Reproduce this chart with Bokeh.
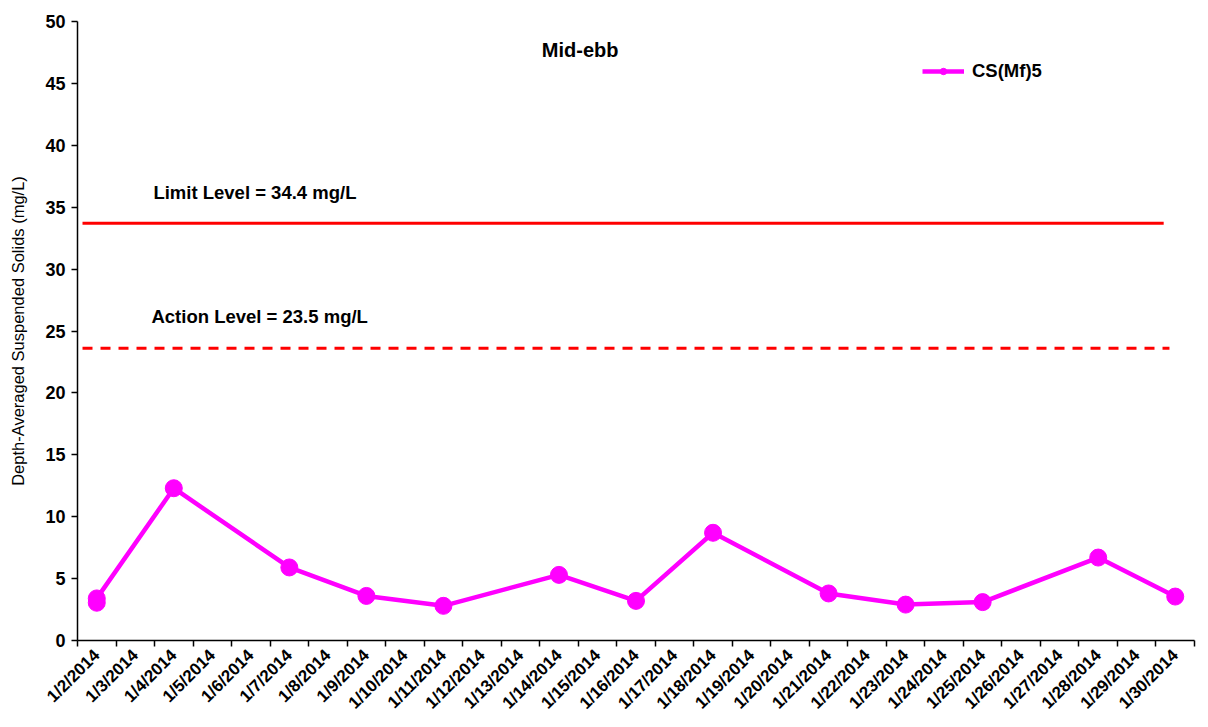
import math
from bokeh.plotting import figure
from bokeh.models import (FixedTicker, Label, Legend, LegendItem, ColumnDataSource, Range1d)
from bokeh.embed import file_html
from bokeh.resources import INLINE

# ---- data ----
categories = ["1/%d/2014" % d for d in range(2, 31)]
point_dates = ["1/2/2014", "1/2/2014", "1/4/2014", "1/7/2014", "1/9/2014", "1/11/2014",
               "1/14/2014", "1/16/2014", "1/18/2014", "1/21/2014", "1/23/2014",
               "1/25/2014", "1/28/2014", "1/30/2014"]
tss_values = [3.05, 3.4, 12.3, 5.9, 3.6, 2.8, 5.3, 3.2, 8.7, 3.8, 2.9, 3.1, 6.7, 3.55]
series_name = "CS(Mf)5"
limit_level = 33.7
action_level = 23.6
limit_label = "Limit Level = 34.4 mg/L"
action_label = "Action Level = 23.5 mg/L"
y_ticks = list(range(0, 51, 5))

FONT = "Liberation Sans"
MAGENTA = "#FF00FF"
RED = "#FF0000"

n = len(categories)
xs = [categories.index(d) + 0.5 for d in point_dates]

p = figure(width=1200, height=722, output_backend="svg", toolbar_location=None,
           x_range=Range1d(0, n), y_range=Range1d(0, 50),
           min_border_left=77, min_border_right=6, min_border_top=21, min_border_bottom=82)
p.xgrid.visible = False
p.ygrid.visible = False
p.outline_line_color = None
p.background_fill_color = "white"
p.border_fill_color = "white"

# x axis: labels at category centres, ticks at boundaries
xa = p.xaxis[0]
xa.ticker = FixedTicker(ticks=[i + 0.5 for i in range(n)], minor_ticks=list(range(n + 1)))
xa.major_label_overrides = {i + 0.5: c for i, c in enumerate(categories)}
xa.major_label_orientation = math.pi / 4
xa.major_tick_out = 0
xa.major_tick_in = 0
xa.minor_tick_out = 6
xa.minor_tick_in = 0
xa.minor_tick_line_color = "black"
xa.axis_line_color = "black"
xa.axis_line_width = 1.5
xa.minor_tick_line_width = 1.5
xa.major_label_text_font = FONT
xa.major_label_text_font_style = "bold"
xa.major_label_text_font_size = "17px"
xa.major_label_text_color = "black"
xa.major_label_standoff = 6

ya = p.yaxis[0]
ya.ticker = FixedTicker(ticks=y_ticks, minor_ticks=[])
ya.major_tick_out = 6
ya.major_tick_in = 0
ya.axis_line_color = "black"
ya.axis_line_width = 1.5
ya.major_tick_line_width = 1.5
ya.major_label_text_font = FONT
ya.major_label_text_font_style = "bold"
ya.major_label_text_font_size = "18px"
ya.major_label_text_color = "black"
ya.major_label_standoff = 6
ya.axis_label = "Depth-Averaged Suspended Solids (mg/L)"
ya.axis_label_text_font = FONT
ya.axis_label_text_font_style = "normal"
ya.axis_label_text_font_size = "16.5px"
ya.axis_label_text_color = "black"
ya.axis_label_standoff = 15

# reference lines
x0 = 0.13
x1 = n - 0.8
p.line([x0, x1], [limit_level, limit_level], line_color=RED, line_width=3)
p.line([x0, x1 + 0.15], [action_level, action_level], line_color=RED, line_width=3,
       line_dash="10 8")

p.add_layout(Label(x=1.97, y=36.2, text=limit_label, text_font=FONT, text_font_style="bold",
                   text_font_size="18.5px", text_baseline="middle", text_align="left",
                   text_color="black"))
p.add_layout(Label(x=1.92, y=26.2, text=action_label, text_font=FONT, text_font_style="bold",
                   text_font_size="18.5px", text_baseline="middle", text_align="left",
                   text_color="black"))
p.add_layout(Label(x=13.05, y=47.7, text="Mid-ebb", text_font=FONT, text_font_style="bold",
                   text_font_size="20px", text_baseline="middle", text_align="center",
                   text_color="black"))

# series
src = ColumnDataSource(dict(x=xs, y=tss_values))
small = p.scatter("x", "y", source=src, size=9, fill_color=MAGENTA, line_color=MAGENTA)
line_r = p.line("x", "y", source=src, line_color=MAGENTA, line_width=4.5)
p.scatter("x", "y", source=src, size=17, fill_color=MAGENTA, line_color=MAGENTA)

legend = Legend(items=[LegendItem(label=series_name, renderers=[line_r, small])],
                location=(845, 558), border_line_color=None, background_fill_alpha=0,
                glyph_width=42, glyph_height=16, label_text_font=FONT,
                label_text_font_style="bold", label_text_font_size="18.5px",
                label_text_color="black",
                label_standoff=8, padding=0, margin=0, spacing=0)
p.add_layout(legend, "center")

open("out.html", "w").write(file_html(p, INLINE))
